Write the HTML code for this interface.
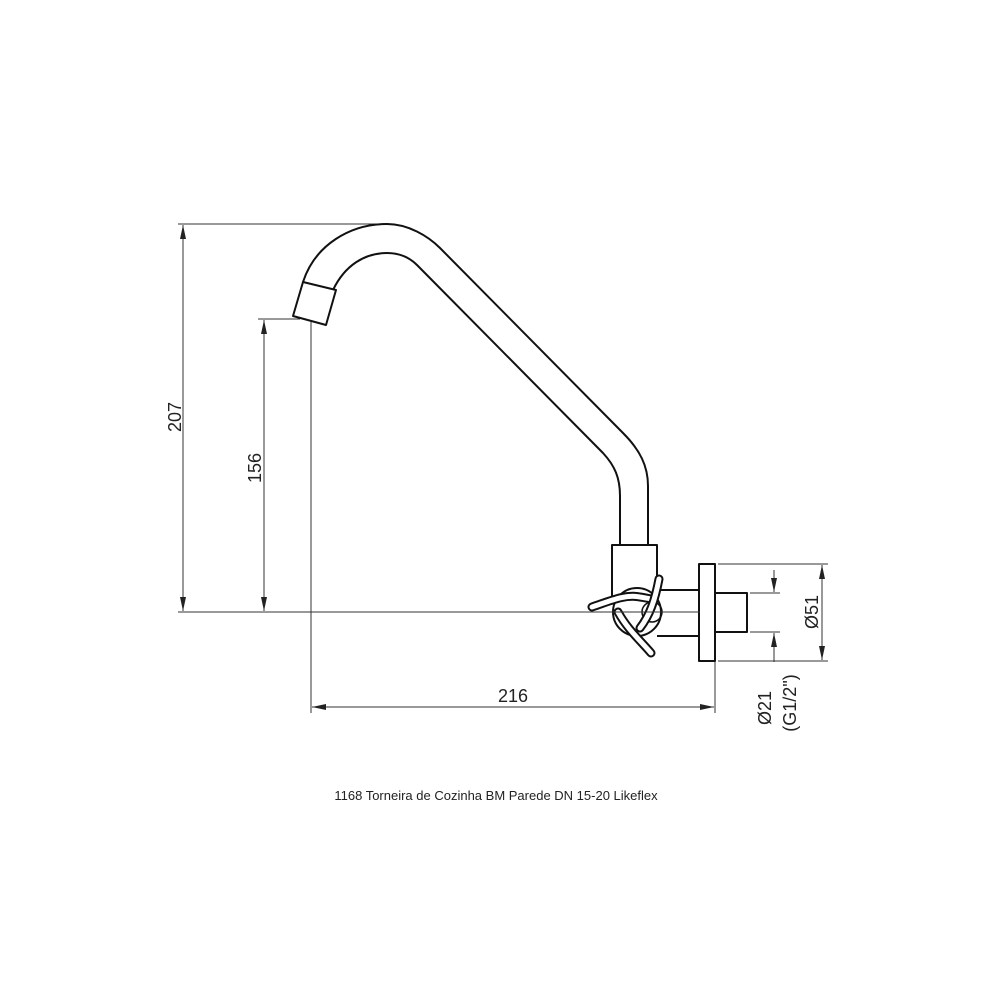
<!DOCTYPE html>
<html><head><meta charset="utf-8"><style>
html,body{margin:0;padding:0;background:#fff}
svg{display:block}
text{font-family:"Liberation Sans",sans-serif;fill:#222}
</style></head><body>
<svg width="991" height="991" viewBox="0 0 991 991" xmlns="http://www.w3.org/2000/svg">
<defs>
<marker id="a" viewBox="0 0 10 10" refX="10" refY="5" markerWidth="14" markerHeight="6" orient="auto-start-reverse" markerUnits="userSpaceOnUse" preserveAspectRatio="none"><path d="M0,0 L10,5 L0,10 z" fill="#222"/></marker>
</defs>
<g stroke="#333" stroke-width="1" fill="none">
<line x1="178" y1="224" x2="385" y2="224"/>
<line x1="258" y1="319" x2="300" y2="319"/>
<line x1="178" y1="612" x2="745" y2="612"/>
<line x1="311" y1="322" x2="311" y2="713"/>
<line x1="715" y1="661" x2="715" y2="713"/>
<line x1="718" y1="564" x2="828" y2="564"/>
<line x1="718" y1="661" x2="828" y2="661"/>
<line x1="750" y1="593" x2="780" y2="593"/>
<line x1="750" y1="632" x2="780" y2="632"/>
<line x1="183" y1="225" x2="183" y2="611" marker-start="url(#a)" marker-end="url(#a)"/>
<line x1="264" y1="320" x2="264" y2="611" marker-start="url(#a)" marker-end="url(#a)"/>
<line x1="312" y1="707" x2="714" y2="707" marker-start="url(#a)" marker-end="url(#a)"/>
<line x1="822" y1="565" x2="822" y2="660" marker-start="url(#a)" marker-end="url(#a)"/>
<line x1="774" y1="570" x2="774" y2="592" marker-end="url(#a)"/>
<line x1="774" y1="662" x2="774" y2="633" marker-end="url(#a)"/>
</g>
<g stroke="#111" stroke-width="2" fill="none" stroke-linejoin="round">
<path d="M303,282 C315,245 350,224 387,224 C408,224 428,236 440,248 L623,433 C640,450 648,466 648,486 L648,545"/>
<path d="M333,290 C345,265 365,253 387,253 C400,253 410,258 417,265 L603,453 C615,466 620,478 620,496 L620,545"/>
<path d="M303,282 L336,290 L326,325 L293,316 Z" fill="#fff"/>
<rect x="612" y="545" width="45" height="55" fill="#fff"/>
<line x1="657" y1="590" x2="699" y2="590"/>
<line x1="657" y1="636" x2="699" y2="636"/>
<rect x="699" y="564" width="16" height="97" fill="#fff"/>
<rect x="715" y="593" width="32" height="39" fill="#fff"/>
<circle cx="637" cy="612" r="24" fill="#fff"/>
<circle cx="652" cy="612" r="10" fill="none" stroke-width="1.5"/>
</g>
<g fill="none" stroke-linecap="round">
<path d="M592,607 C610,601 625,594 640,597 C648,598 652,600 654,598" stroke="#111" stroke-width="9"/>
<path d="M592,607 C610,601 625,594 640,597 C648,598 652,600 654,598" stroke="#fff" stroke-width="5"/>
<path d="M659,579 C655,600 650,615 640,628" stroke="#111" stroke-width="9"/>
<path d="M659,579 C655,600 650,615 640,628" stroke="#fff" stroke-width="5"/>
<path d="M618,612 C628,630 640,640 651,653" stroke="#111" stroke-width="9"/>
<path d="M618,612 C628,630 640,640 651,653" stroke="#fff" stroke-width="5"/>
</g>
<line x1="590" y1="612" x2="700" y2="612" stroke="#333" stroke-width="1"/>
<text x="0" y="0" font-size="18" text-anchor="middle" transform="translate(181,417) rotate(-90)">207</text>
<text x="0" y="0" font-size="18" text-anchor="middle" transform="translate(261,468) rotate(-90)">156</text>
<text x="513" y="702" font-size="18" text-anchor="middle">216</text>
<text x="0" y="0" font-size="18" text-anchor="middle" transform="translate(818,612) rotate(-90)">Ø51</text>
<text x="0" y="0" font-size="18" text-anchor="middle" transform="translate(771,708) rotate(-90)">Ø21</text>
<text x="0" y="0" font-size="18" text-anchor="middle" transform="translate(796,703) rotate(-90)">(G1/2")</text>
<text x="496" y="800" font-size="13" text-anchor="middle">1168 Torneira de Cozinha BM Parede DN 15-20 Likeflex</text>
</svg>
</body></html>
